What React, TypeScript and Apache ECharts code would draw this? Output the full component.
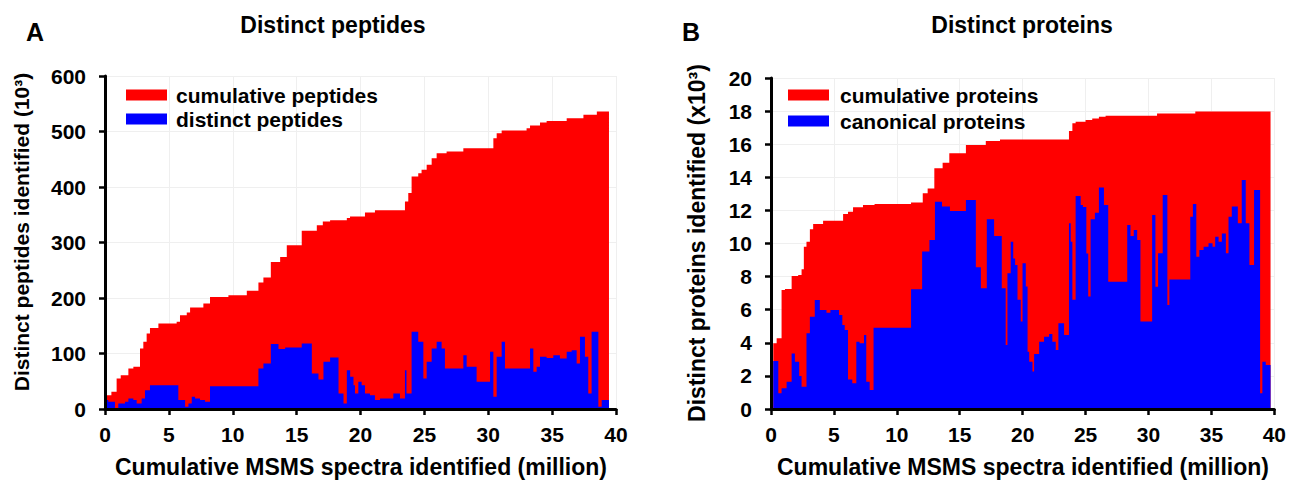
import React, { useEffect, useRef } from "react";
import * as echarts from "echarts";

// ---- Data (x = cumulative MSMS spectra, million; y = identified count) ----
const xTicks = [0, 5, 10, 15, 20, 25, 30, 35, 40];

const pepCumulative: number[][] = [
  [0.15, 25], [0.5, 31], [0.91, 55], [1.23, 61], [1.83, 73], [2.22, 76], [2.74, 109], [3.0, 121],
  [3.26, 136], [3.52, 146], [4.18, 154], [5.61, 157], [5.87, 169], [6.4, 174], [6.66, 183], [7.7, 190],
  [8.22, 202], [9.66, 205], [11.1, 213], [12.01, 228], [12.4, 237], [12.98, 265], [13.71, 274],
  [14.23, 295], [15.4, 321], [16.58, 331], [17.05, 338], [17.62, 340], [18.93, 344], [19.18, 347],
  [20.35, 354], [21.13, 358], [23.48, 374], [23.74, 389], [24.0, 419], [24.52, 425], [24.78, 431],
  [25.18, 440], [25.57, 452], [25.96, 461], [26.74, 464], [28.05, 470], [30.4, 488], [30.66, 497],
  [31.05, 502], [33.0, 506], [33.27, 511], [34.05, 516], [34.57, 519], [36.14, 524], [37.45, 530],
  [38.5, 536], [39.45, 536],
];

const pepDistinct: number[][] = [
  [0.13, 16], [0.26, 13], [0.78, 1], [1.04, 10], [1.57, 13], [1.83, 19], [2.22, 16], [2.48, 10],
  [2.87, 19], [3.13, 34], [3.52, 43], [5.74, 16], [6.27, 4], [6.53, 10], [6.79, 22], [7.05, 19],
  [7.44, 16], [7.83, 13], [8.22, 41], [12.01, 73], [12.4, 82], [12.98, 117], [13.58, 108],
  [14.1, 111], [15.4, 118], [16.19, 64], [16.71, 53], [17.1, 85], [17.62, 93], [18.28, 28],
  [18.67, 10], [18.93, 70], [19.19, 58], [19.45, 43], [19.57, 28], [19.83, 49], [20.09, 43],
  [20.35, 28], [20.74, 25], [21.13, 16], [21.53, 19], [22.57, 28], [23.09, 19], [23.48, 70],
  [23.6, 28], [24.0, 139], [24.52, 121], [24.92, 55], [25.18, 85], [25.57, 109], [25.96, 121],
  [26.35, 109], [26.61, 73], [28.05, 97], [28.31, 76], [29.09, 49], [30.14, 103], [30.4, 22],
  [30.66, 94], [31.05, 121], [31.31, 73], [33.27, 109], [33.53, 67], [33.79, 76], [34.05, 94],
  [34.57, 92], [35.09, 97], [35.61, 91], [36.14, 103], [36.53, 106], [36.92, 82], [37.18, 130],
  [37.57, 94], [37.83, 28], [38.09, 139], [38.62, 4], [38.88, 16], [39.45, 16],
];

const protCumulative: number[][] = [
  [0.18, 3.97], [0.45, 4.27], [0.84, 7.19], [1.11, 7.25], [1.64, 8.04], [2.16, 8.1], [2.43, 8.44],
  [2.61, 9.8], [2.82, 10.1], [3.09, 10.86], [3.35, 11.18], [4.14, 11.38], [5.73, 11.78],
  [6.12, 11.92], [6.52, 12.19], [7.31, 12.33], [8.23, 12.39], [11.13, 12.47], [12.06, 13.03],
  [12.45, 13.33], [12.98, 14.54], [13.64, 14.88], [14.17, 15.45], [15.49, 15.95], [17.07, 16.2],
  [18.2, 16.29], [23.68, 16.8], [23.95, 17.26], [24.21, 17.36], [25.0, 17.46], [25.53, 17.56],
  [26.06, 17.66], [26.59, 17.72], [30.68, 17.86], [33.72, 17.97], [39.7, 17.97],
];

const protCanonical: number[][] = [
  [0.18, 2.9], [0.58, 0.95], [0.84, 1.25], [1.24, 1.65], [1.64, 3.36], [1.9, 2.86], [2.24, 2.0],
  [2.43, 1.35], [2.82, 4.57], [3.09, 5.58], [3.48, 6.59], [3.88, 5.98], [4.41, 5.82], [4.72, 5.98],
  [5.41, 5.68], [5.67, 5.08], [5.86, 4.77], [6.12, 1.79], [6.46, 1.55], [6.78, 4.07], [7.04, 3.97],
  [7.39, 4.47], [7.57, 1.65], [7.84, 1.15], [8.15, 4.91], [11.13, 7.23], [12.01, 9.51],
  [12.59, 10.21], [13.03, 12.53], [13.59, 12.23], [14.22, 11.96], [15.49, 12.63], [16.28, 8.56],
  [16.68, 7.29], [17.15, 11.46], [17.73, 10.45], [18.34, 7.29], [18.65, 3.87], [18.79, 8.2],
  [19.05, 10.1], [19.25, 9.1], [19.4, 8.7], [19.59, 6.6], [19.85, 5.28], [19.99, 8.8], [20.25, 7.4],
  [20.39, 3.46], [20.52, 2.86], [20.78, 2.26], [20.91, 3.32], [21.31, 4.07], [21.7, 4.37],
  [22.1, 4.53], [22.36, 4.07], [22.63, 3.57], [22.84, 5.18], [23.29, 4.47], [23.68, 11.22],
  [23.82, 10.1], [23.95, 6.6], [24.21, 12.87], [24.61, 12.33], [24.79, 12.2], [25.06, 9.4],
  [25.21, 6.8], [25.4, 11.46], [25.74, 11.86], [26.06, 13.39], [26.46, 12.33], [26.8, 7.69],
  [28.31, 11.12], [28.57, 10.45], [28.83, 10.82], [29.1, 10.21], [29.36, 5.28], [30.29, 11.72],
  [30.55, 7.39], [30.76, 9.41], [31.13, 12.93], [31.5, 6.28], [31.66, 7.83], [33.32, 11.62],
  [33.53, 12.39], [33.8, 9.2], [34.04, 9.61], [34.38, 9.81], [34.77, 10.01], [35.09, 9.81],
  [35.3, 10.41], [35.57, 10.11], [35.83, 10.61], [36.15, 9.41], [36.36, 11.62], [36.62, 12.23],
  [37.1, 11.22], [37.41, 13.84], [37.73, 11.22], [38.02, 8.7], [38.39, 13.23], [38.87, 0.95],
  [39.05, 2.86], [39.32, 2.66], [39.7, 2.66],
];

const FONT = "'Liberation Sans', Arial, sans-serif";
const RED = "#ff0000";
const BLUE = "#0000ff";
const GRID_COLOR = "#efefef";

function xAxisCfg(gridIndex: number, gridOnly: boolean) {
  return {
    type: "value",
    gridIndex,
    min: xTicks[0],
    max: xTicks[xTicks.length - 1],
    interval: 5,
    z: gridOnly ? 0 : 10,
    axisLine: { show: !gridOnly, onZero: false, lineStyle: { color: "#000", width: 3 } },
    axisTick: { show: !gridOnly, inside: false, length: 6, lineStyle: { color: "#000", width: 2.5 } },
    axisLabel: { show: !gridOnly, color: "#000", fontSize: 21, fontWeight: "bold", fontFamily: FONT, margin: 15 },
    splitLine: { show: gridOnly, lineStyle: { color: GRID_COLOR, width: 1 } },
  };
}

function yAxisCfg(gridIndex: number, max: number, interval: number, gridOnly: boolean) {
  return {
    type: "value",
    gridIndex,
    min: 0,
    max,
    interval,
    z: gridOnly ? 0 : 10,
    axisLine: { show: !gridOnly, onZero: false, lineStyle: { color: "#000", width: 3 } },
    axisTick: { show: !gridOnly, inside: false, length: 6, lineStyle: { color: "#000", width: 2.5 } },
    axisLabel: { show: !gridOnly, color: "#000", fontSize: 21, fontWeight: "bold", fontFamily: FONT, margin: 19 },
    splitLine: { show: gridOnly, lineStyle: { color: GRID_COLOR, width: 1 } },
  };
}

function areaSeries(name: string, data: number[][], color: string, idx: number, z: number) {
  return {
    type: "line",
    name,
    xAxisIndex: idx,
    yAxisIndex: idx,
    data,
    step: "end",
    symbol: "none",
    showSymbol: false,
    silent: true,
    z,
    lineStyle: { width: 0, opacity: 0 },
    itemStyle: { color },
    areaStyle: { color, opacity: 1 },
  };
}

const txt = (x: number, y: number, text: string, size: number, extra: any = {}) => ({
  type: "text",
  x,
  y,
  ...extra,
  style: {
    text,
    fill: "#000",
    font: `bold ${size}px ${FONT}`,
    align: "center",
    verticalAlign: "middle",
  },
});

export default function App() {
  const ref = useRef<HTMLDivElement>(null);
  useEffect(() => {
    document.body.style.margin = "0";
    if (!ref.current) return;
    const chart = echarts.init(ref.current, null, { renderer: "svg" });
    const legendText = { color: "#000", fontSize: 21, fontWeight: "bold", fontFamily: FONT, lineHeight: 22 };
    chart.setOption({
      animation: false,
      backgroundColor: "#fff",
      grid: [
        { left: 105, top: 76, width: 511, height: 333, containLabel: false },
        { left: 771, top: 78, width: 505, height: 331, containLabel: false },
      ],
      xAxis: [xAxisCfg(0, false), xAxisCfg(1, false), xAxisCfg(0, true), xAxisCfg(1, true)],
      yAxis: [
        yAxisCfg(0, 600, 100, false),
        yAxisCfg(1, 20, 2, false),
        yAxisCfg(0, 600, 100, true),
        yAxisCfg(1, 20, 2, true),
      ],
      legend: [
        {
          data: ["cumulative peptides", "distinct peptides"],
          orient: "vertical",
          left: 126,
          top: 84,
          padding: 0,
          icon: "rect",
          itemWidth: 41,
          itemHeight: 11,
          itemGap: 2,
          textStyle: { ...legendText, padding: [0, 0, 0, 4] },
          selectedMode: false,
        },
        {
          data: ["cumulative proteins", "canonical proteins"],
          orient: "vertical",
          left: 788,
          top: 84,
          padding: 0,
          icon: "rect",
          itemWidth: 41,
          itemHeight: 11,
          itemGap: 4,
          textStyle: { ...legendText, padding: [0, 0, 0, 6] },
          selectedMode: false,
        },
      ],
      series: [
        areaSeries("cumulative peptides", pepCumulative, RED, 0, 2),
        areaSeries("distinct peptides", pepDistinct, BLUE, 0, 3),
        areaSeries("cumulative proteins", protCumulative, RED, 1, 2),
        areaSeries("canonical proteins", protCanonical, BLUE, 1, 3),
      ],
      graphic: [
        txt(35, 32, "A", 25),
        txt(691, 32, "B", 25),
        txt(333, 25, "Distinct peptides", 23),
        txt(1022, 25, "Distinct proteins", 23),
        txt(21, 232, "Distinct peptides identified (10³)", 21, { rotation: Math.PI / 2 }),
        txt(697, 243, "Distinct proteins identified (x10³)", 23, { rotation: Math.PI / 2 }),
        txt(361, 467, "Cumulative MSMS spectra identified (million)", 23),
        txt(1023, 467, "Cumulative MSMS spectra identified (million)", 23),
      ],
    });
    return () => chart.dispose();
  }, []);
  return <div ref={ref} style={{ width: 1289, height: 481 }} />;
}
